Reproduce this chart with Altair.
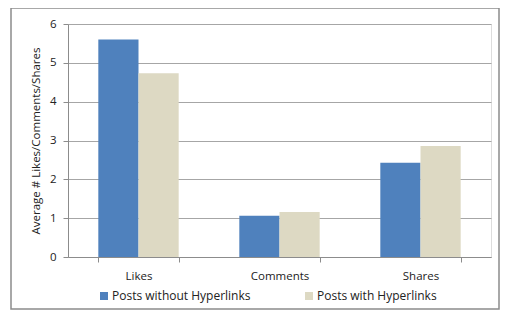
import altair as alt
import pandas as pd

categories = ["Likes", "Comments", "Shares"]
series = ["Posts without Hyperlinks", "Posts with Hyperlinks"]
without_links = [5.6, 1.06, 2.43]
with_links = [4.73, 1.16, 2.86]
colors = ["#4F81BD", "#DDD9C3"]

rows = []
for c, a, b in zip(categories, without_links, with_links):
    rows.append({"category": c, "series": series[0], "value": a})
    rows.append({"category": c, "series": series[1], "value": b})
df = pd.DataFrame(rows)

FONT = "Open Sans"

bars = alt.Chart(df).mark_bar().encode(
    x=alt.X("category:N", sort=categories, title=None,
            scale=alt.Scale(paddingInner=0.43, paddingOuter=0.215),
            axis=alt.Axis(labelAngle=0, tickBand="extent", labelPadding=8, tickSize=5,
                          domainColor="#8c8c8c", tickColor="#8c8c8c", labelFontSize=11.5,
                          labelColor="#222", labelFont=FONT, grid=False)),
    xOffset=alt.XOffset("series:N", sort=series),
    y=alt.Y("value:Q", title="Average # Likes/Comments/Shares",
            scale=alt.Scale(domain=[0, 6], nice=False),
            axis=alt.Axis(values=[0, 1, 2, 3, 4, 5, 6], format="d", tickSize=5,
                          domainColor="#8c8c8c", tickColor="#8c8c8c", gridColor="#a6a6a6",
                          labelFontSize=11.5, labelColor="#222", labelFont=FONT, labelPadding=7,
                          titleFont=FONT, titleFontSize=11.5, titleFontWeight="normal",
                          titleColor="#222", titlePadding=8)),
    color=alt.Color("series:N", sort=series,
                    scale=alt.Scale(domain=series, range=colors),
                    legend=alt.Legend(title=None, orient="none", legendX=30, legendY=266,
                                      direction="horizontal", symbolType="square",
                                      symbolSize=64, symbolStrokeWidth=0, labelFont=FONT,
                                      labelFontSize=12, labelColor="#222", labelOffset=2,
                                      columnPadding=52, labelLimit=220, symbolOffset=0)),
)

border = alt.Chart(pd.DataFrame({"k": [0]})).mark_rect(
    fill=None, stroke="#8c8c8c", strokeWidth=1.5
).encode(x=alt.value(-57), x2=alt.value(431), y=alt.value(-16), y2=alt.value(285))

chart = alt.layer(bars, border).properties(
    width=423, height=233,
    autosize=alt.AutoSizeParams(type="none"),
    padding={"left": 60, "top": 16, "right": 9, "bottom": 53},
).configure_view(stroke=None).configure(background="white")

chart.save("out.html", embed_options={"renderer": "svg", "actions": False})
